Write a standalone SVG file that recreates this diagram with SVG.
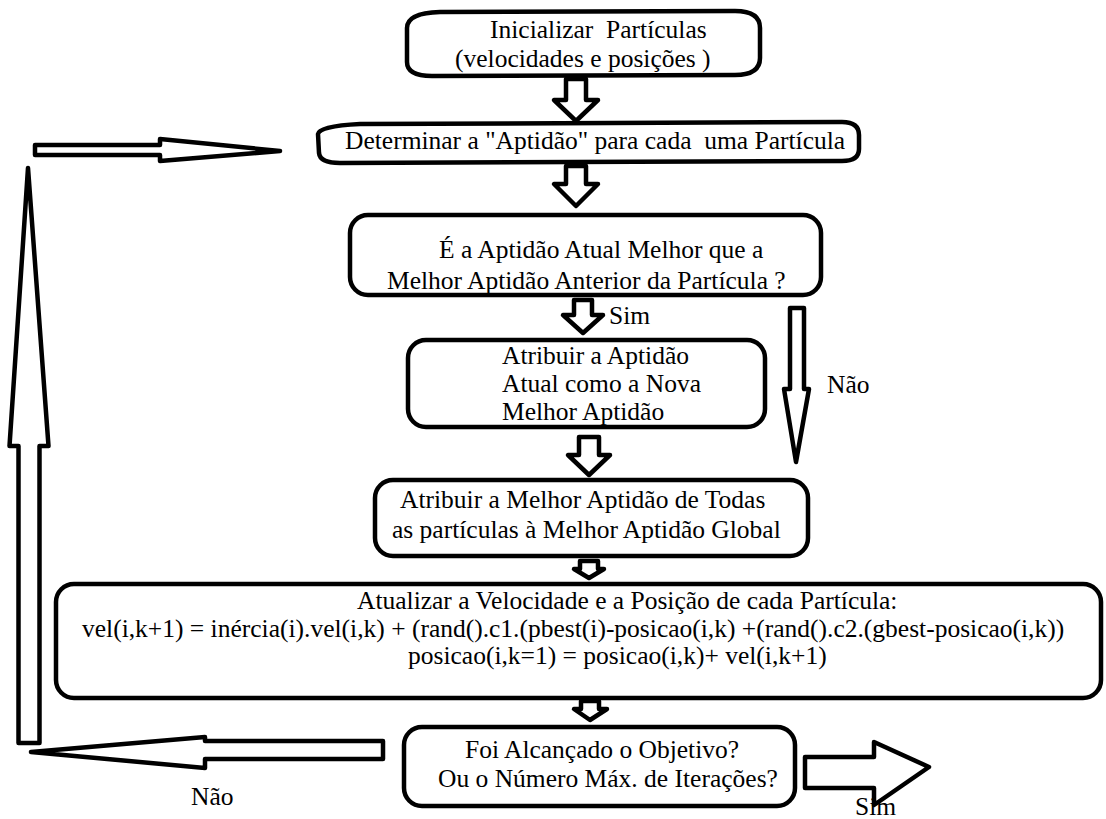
<svg xmlns="http://www.w3.org/2000/svg" width="1106" height="819" viewBox="0 0 1106 819">
<style>
.box{fill:#fff;stroke:#000;stroke-width:4.5;stroke-linejoin:round}
.arr{fill:#fff;stroke:#000;stroke-width:4.5;stroke-linejoin:round}
</style>
<rect width="1106" height="819" fill="#fff"/>
<g id="connectors">
<path class="arr" d="M566 79 L586 79 L586 100 L598 100 L576 121 L554 100 L566 100 Z"/>
<path class="arr" d="M566 166 L586 166 L586 184 L598 184 L576 206 L554 184 L566 184 Z"/>
<path class="arr" d="M574 300 L592 300 L592 315 L603 315 L583 333 L563 315 L574 315 Z"/>
<path class="arr" d="M579 437 L599 437 L599 455 L610 455 L589 475 L568 455 L579 455 Z"/>
<path class="arr" d="M580 561 L598 561 L598 569 L604 569 L589 578 L574 569 L580 569 Z"/>
<path class="arr" d="M581 701 L599 701 L599 709 L607 709 L590 720 L574 709 L581 709 Z"/>
<path class="arr" d="M790 308 L804 308 L804 389 L809 389 L796 462 L784 389 L790 389 Z"/>
<path class="arr" d="M805 757 L874 757 L874 742 L929 767 L874 805 L874 788 L805 788 Z"/>
<path class="arr" d="M383 741 L205 741 L205 737 L31 752 L205 768 L205 759 L383 759 Z"/>
<path class="arr" d="M18.5 743 L18.5 446 L9.5 446 L28 168 L48.5 446 L39.5 446 L39.5 743 Z"/>
<path class="arr" d="M35 145 L160 145 L160 139 L280 151 L160 161 L160 155 L35 155 Z"/>
<text font-family="'Liberation Serif', serif" font-size="25.5" x="609" y="324">Sim</text>
<text font-family="'Liberation Serif', serif" font-size="25.5" x="827" y="393">Não</text>
<text font-family="'Liberation Serif', serif" font-size="25.5" x="191" y="805">Não</text>
<text font-family="'Liberation Serif', serif" font-size="25.5" x="855" y="815">Sim</text>
</g>
<g id="n1">
<path class="box" d="M407 28 Q407 13 440 12 L735 11 Q760 11 760 28 L760 58 Q760 75 735 75 L432 76 Q407 76 407 62 Z"/>
<text font-family="'Liberation Serif', serif" font-size="25.5" xml:space="preserve" x="490" y="38">Inicializar  Partículas</text>
<text font-family="'Liberation Serif', serif" font-size="25.5" x="455" y="67">(velocidades e posições )</text>
</g>
<g id="n2">
<path class="box" d="M318 134 Q319 126 360 124 L842 122 Q859 122 859 135 L859 149 Q859 161 842 161 L340 163 Q320 163 319 153 Z"/>
<text font-family="'Liberation Serif', serif" font-size="25.5" xml:space="preserve" x="345" y="149">Determinar a "Aptidão" para cada  uma Partícula</text>
</g>
<g id="n3">
<rect class="box" x="350" y="215" width="471" height="80" rx="18"/>
<text font-family="'Liberation Serif', serif" font-size="25.5" x="439" y="258">É a Aptidão Atual Melhor que a</text>
<text font-family="'Liberation Serif', serif" font-size="25.5" x="387" y="289">Melhor Aptidão Anterior da Partícula ?</text>
</g>
<g id="n4">
<rect class="box" x="408" y="340" width="357" height="87" rx="18"/>
<text font-family="'Liberation Serif', serif" font-size="25.5" x="502" y="364">Atribuir a Aptidão</text>
<text font-family="'Liberation Serif', serif" font-size="25.5" x="502" y="392">Atual como a Nova</text>
<text font-family="'Liberation Serif', serif" font-size="25.5" x="502" y="420">Melhor Aptidão</text>
</g>
<g id="n5">
<rect class="box" x="375" y="480" width="433" height="76" rx="18"/>
<text font-family="'Liberation Serif', serif" font-size="25.5" x="400" y="508">Atribuir a Melhor Aptidão de Todas</text>
<text font-family="'Liberation Serif', serif" font-size="25.5" x="392" y="538">as partículas à Melhor Aptidão Global</text>
</g>
<g id="n6">
<rect class="box" x="56" y="584" width="1045" height="114" rx="18"/>
<text font-family="'Liberation Serif', serif" font-size="25.5" x="357" y="609">Atualizar a Velocidade e a Posição de cada Partícula:</text>
<text font-family="'Liberation Serif', serif" font-size="25.5" x="82" y="637">vel(i,k+1) = inércia(i).vel(i,k) + (rand().c1.(pbest(i)-posicao(i,k) +(rand().c2.(gbest-posicao(i,k))</text>
<text font-family="'Liberation Serif', serif" font-size="25.5" x="408" y="664">posicao(i,k=1) = posicao(i,k)+ vel(i,k+1)</text>
</g>
<g id="n7">
<rect class="box" x="404" y="727" width="391" height="79" rx="18"/>
<text font-family="'Liberation Serif', serif" font-size="25.5" x="465" y="758">Foi Alcançado o Objetivo?</text>
<text font-family="'Liberation Serif', serif" font-size="25.5" x="438" y="787">Ou o Número Máx. de Iterações?</text>
</g>
</svg>
